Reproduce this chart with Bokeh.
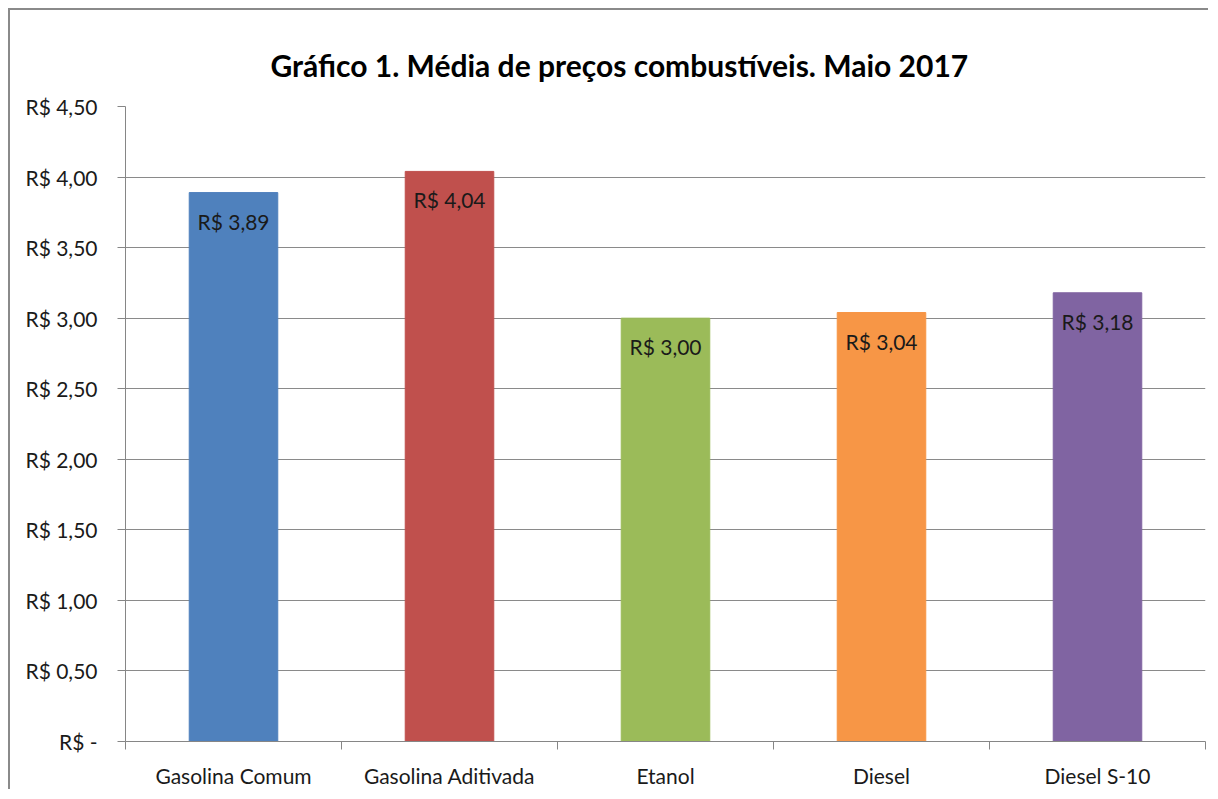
from bokeh.plotting import figure
from bokeh.models import ColumnDataSource, FixedTicker, Range1d, LabelSet
from bokeh.core.properties import value
from bokeh.embed import file_html
from bokeh.resources import INLINE

categories = ["Gasolina Comum", "Gasolina Aditivada", "Etanol", "Diesel", "Diesel S-10"]
prices = [3.89, 4.04, 3.00, 3.04, 3.18]
colors = ["#4F81BD", "#C0504D", "#9BBB59", "#F79646", "#8064A2"]
y_ticks = [0.0, 0.5, 1.0, 1.5, 2.0, 2.5, 3.0, 3.5, 4.0, 4.5]
title_text = "Gráfico 1. Média de preços combustíveis. Maio 2017"

FONT = "Lato"

def brl(v):
    if v == 0:
        return "R$ -"
    return "R$ " + f"{v:.2f}".replace(".", ",")

xs = [i + 0.5 for i in range(len(categories))]
src = ColumnDataSource(dict(x=xs, top=prices, color=colors,
                            label=[brl(v) for v in prices]))

p = figure(width=1200, height=781, output_backend="svg", toolbar_location=None,
           x_range=Range1d(0, len(categories)), y_range=Range1d(0, 4.5),
           min_border_left=115, min_border_right=5, min_border_top=96,
           min_border_bottom=50, title=title_text)
p.styles = {"border-left": "2px solid #8a8a8a", "border-top": "2px solid #8a8a8a",
            "margin-left": "8px", "margin-top": "8px"}
p.outline_line_color = None
p.background_fill_color = "white"
p.border_fill_color = "white"

p.title.align = "left"
p.title.offset = 145
p.title.standoff = 48
p.title.text_font = FONT
p.title.text_font_style = "bold"
p.title.text_font_size = "30px"
p.title.text_color = "#000000"

p.vbar(x="x", top="top", width=0.41, color="color", source=src)

labels = LabelSet(x="x", y="top", text="label", source=src, text_align="center",
                  text_baseline="top", y_offset=-16, text_font=value(FONT),
                  text_font_size="21px", text_color="#1a1a1a")
p.add_layout(labels)

# y axis
p.yaxis.ticker = FixedTicker(ticks=y_ticks)
p.yaxis.major_label_overrides = {t: brl(t) for t in y_ticks}
p.yaxis.major_label_text_font = FONT
p.yaxis.major_label_text_font_size = "21px"
p.yaxis.major_label_text_color = "#1a1a1a"
p.yaxis.major_tick_out = 8
p.yaxis.major_tick_in = 0
p.yaxis.minor_tick_line_color = None
p.yaxis.major_label_standoff = 20
p.yaxis.axis_line_color = "#868686"
p.yaxis.major_tick_line_color = "#868686"

# x axis: labels at centers, ticks at category boundaries
p.xaxis.ticker = FixedTicker(ticks=xs, minor_ticks=list(range(len(categories) + 1)))
p.xaxis.major_label_overrides = {x: c for x, c in zip(xs, categories)}
p.xaxis.major_tick_line_color = None
p.xaxis.major_tick_out = 0
p.xaxis.major_tick_in = 0
p.xaxis.minor_tick_out = 8
p.xaxis.minor_tick_in = 0
p.xaxis.minor_tick_line_color = "#868686"
p.xaxis.axis_line_color = "#868686"
p.xaxis.major_label_standoff = 13
p.xaxis.major_label_text_font = FONT
p.xaxis.major_label_text_font_size = "21px"
p.xaxis.major_label_text_color = "#1a1a1a"

p.xgrid.grid_line_color = None
p.ygrid.grid_line_color = "#8a8a8a"
p.ygrid.grid_line_width = 1

open("out.html", "w").write(file_html(p, INLINE))
